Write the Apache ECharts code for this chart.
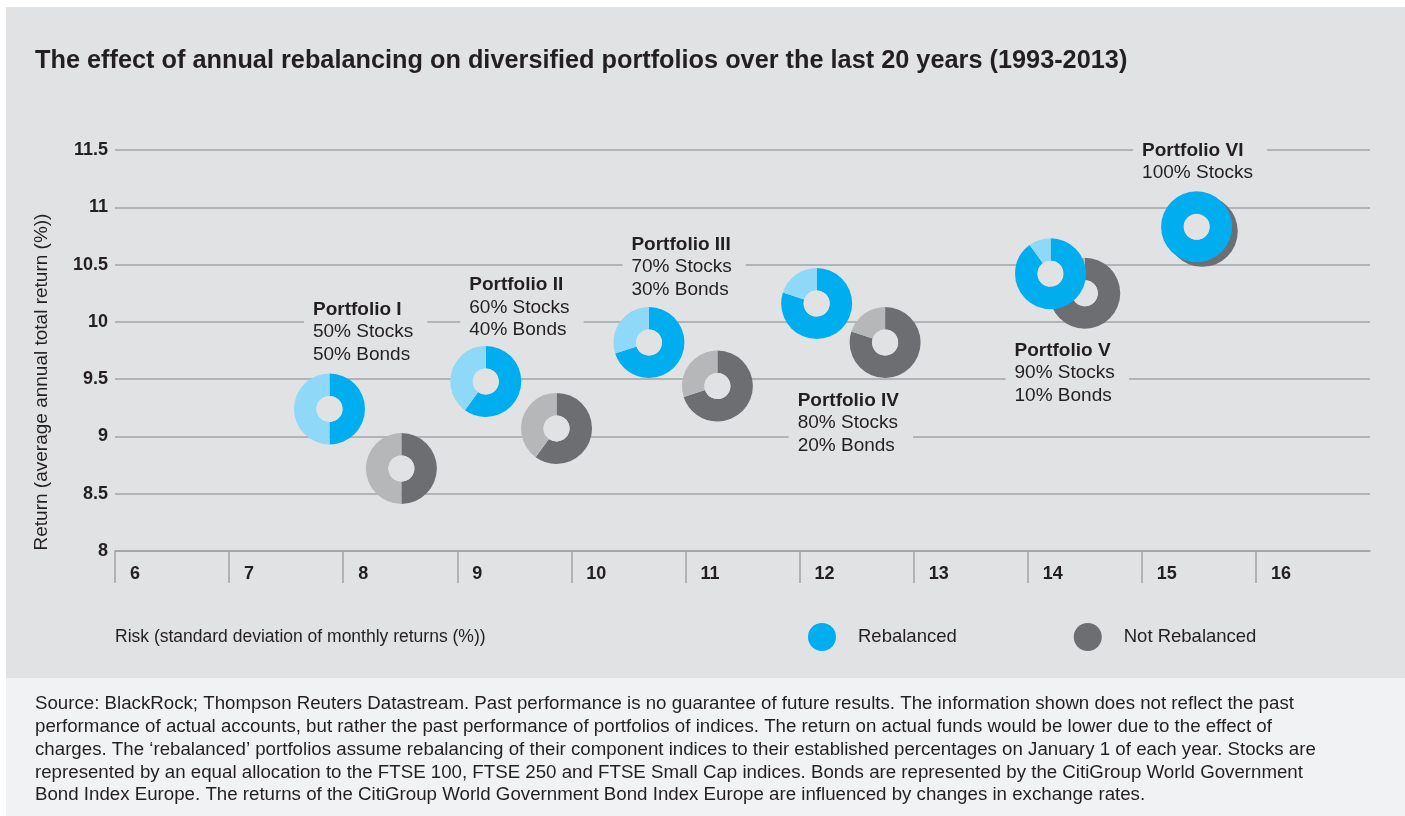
<!DOCTYPE html>
<html>
<head>
<meta charset="utf-8">
<script src="https://cdn.jsdelivr.net/npm/echarts@6/dist/echarts.min.js"></script>
<style>
  html, body { margin: 0; padding: 0; background: #fff; }
  #chart { width: 1405px; height: 816px; }
</style>
</head>
<body>
<div id="chart"></div>
<script>
// data
const portfolios = ["Portfolio I", "Portfolio II", "Portfolio III", "Portfolio IV", "Portfolio V", "Portfolio VI"];
const stockShare = [50, 60, 70, 80, 90, 100];
const bondShare = [50, 40, 30, 20, 10, 0];
const rebalRisk = [7.88, 9.25, 10.68, 12.15, 14.2, 15.48];
const rebalReturn = [9.24, 9.48, 9.82, 10.16, 10.42, 10.83];
const notRebalRisk = [8.51, 9.87, 11.28, 12.75, 14.5, 15.53];
const notRebalReturn = [8.72, 9.07, 9.44, 9.82, 10.25, 10.79];
const xTicks = [6, 7, 8, 9, 10, 11, 12, 13, 14, 15, 16];

const FONT = "'Liberation Sans', Arial, Helvetica, sans-serif";
const INK = "#231f20";
const PANEL = "#e1e2e4";
const LINE = "#a2a3a5";
const BLUE = ["#00aeef", "#8ed8f8"];
const GREY = ["#6d6e71", "#b6b7b9"];

// where each text block sits, in px from its rebalanced donut
const labelBox = [[-25.5, -112.5], [-25.5, -109.5], [-26.5, -111], [-28, 83.5], [-45, 63.5], [-63.5, -89.5]];

const footnote = [
  "Source: BlackRock; Thompson Reuters Datastream. Past performance is no guarantee of future results. The information shown does not reflect the past",
  "performance of actual accounts, but rather the past performance of portfolios of indices. The return on actual funds would be lower due to the effect of",
  "charges. The \u2018rebalanced\u2019 portfolios assume rebalancing of their component indices to their established percentages on January 1 of each year. Stocks are",
  "represented by an equal allocation to the FTSE 100, FTSE 250 and FTSE Small Cap indices. Bonds are represented by the CitiGroup World Government",
  "Bond Index Europe. The returns of the CitiGroup World Government Bond Index Europe are influenced by changes in exchange rates."
].join("\n");

function donut(colors) {
  return function (params, api) {
    const c = api.coord([api.value(0), api.value(1)]);
    const share = api.value(2) / 100;
    const start = -Math.PI / 2;
    const mid = start + share * Math.PI * 2;
    const children = [{
      type: "sector",
      shape: { cx: c[0], cy: c[1], r0: 13, r: 35.5, startAngle: start, endAngle: mid, clockwise: true },
      style: { fill: colors[0] }
    }];
    if (share < 1) {
      children.push({
        type: "sector",
        shape: { cx: c[0], cy: c[1], r0: 13, r: 35.5, startAngle: mid, endAngle: start + Math.PI * 2, clockwise: true },
        style: { fill: colors[1] }
      });
    }
    // the hole is filled with the panel colour
    children.push({ type: "circle", shape: { cx: c[0], cy: c[1], r: 13 }, style: { fill: PANEL } });
    return { type: "group", children: children };
  };
}

function portfolioLabel(params, api) {
  const i = params.dataIndex;
  const c = api.coord([api.value(0), api.value(1)]);
  let txt = "{b|" + portfolios[i] + "}\n{n|" + stockShare[i] + "% Stocks}";
  if (bondShare[i] > 0) txt += "\n{n|" + bondShare[i] + "% Bonds}";
  return {
    type: "text",
    x: c[0] + labelBox[i][0],
    y: c[1] + labelBox[i][1],
    style: {
      text: txt,
      fill: INK,
      fontFamily: FONT,
      backgroundColor: PANEL,
      padding: [2, 14, 2, 9],
      rich: {
        b: { fontSize: 19, fontWeight: "bold", lineHeight: 22.5, fontFamily: FONT, fill: INK },
        n: { fontSize: 19, lineHeight: 22.5, fontFamily: FONT, fill: INK }
      }
    }
  };
}

const chart = echarts.init(document.getElementById("chart"));
chart.setOption({
  backgroundColor: "#fff",
  animation: false,
  graphic: [
    { type: "rect", z: -10, shape: { x: 6, y: 7, width: 1399, height: 671 }, style: { fill: PANEL } },
    { type: "rect", z: -10, shape: { x: 6, y: 678, width: 1399, height: 138 }, style: { fill: "#f1f2f4" } },
    {
      type: "text", x: 42, y: 382, rotation: Math.PI / 2,
      style: { text: "Return (average annual total return (%))", font: "19px " + FONT, fill: INK, textAlign: "center", textVerticalAlign: "middle" }
    },
    {
      type: "text", x: 115, y: 637,
      style: { text: "Risk (standard deviation of monthly returns (%))", font: "17.5px " + FONT, fill: INK, textVerticalAlign: "middle" }
    },
    {
      type: "text", x: 35, y: 693,
      style: { text: footnote, font: "18.7px " + FONT, fill: INK, lineHeight: 22.7 }
    }
  ],
  title: {
    text: "The effect of annual rebalancing on diversified portfolios over the last 20 years (1993-2013)",
    left: 35,
    top: 49,
    padding: 0,
    textStyle: { fontSize: 25.3, fontWeight: "bold", color: INK, fontFamily: FONT }
  },
  legend: {
    data: ["Rebalanced", "Not Rebalanced"],
    left: 803,
    top: 618,
    icon: "circle",
    itemWidth: 28,
    itemHeight: 28,
    itemGap: 117,
    textStyle: { fontSize: 18.5, color: INK, fontFamily: FONT, padding: [0, 0, 0, 17] }
  },
  grid: { left: 115, right: 35, top: 150, bottom: 265 },
  xAxis: {
    type: "value",
    min: 6,
    max: 17,
    interval: 1,
    axisLine: { show: true, lineStyle: { color: LINE, width: 1.5 } },
    axisTick: { show: true, length: 32, customValues: xTicks, lineStyle: { color: LINE, width: 1.5 } },
    axisLabel: {
      customValues: xTicks,
      align: "left",
      padding: [0, 0, 0, 15],
      margin: 14,
      fontSize: 18,
      fontWeight: "bold",
      color: INK,
      fontFamily: FONT
    },
    splitLine: { show: false }
  },
  yAxis: {
    type: "value",
    min: 8,
    max: 11.5,
    interval: 0.5,
    axisLine: { show: false },
    axisTick: { show: false },
    axisLabel: { fontSize: 18, fontWeight: "bold", color: INK, fontFamily: FONT, margin: 7 },
    splitLine: { lineStyle: { color: LINE, width: 1.5 } }
  },
  series: [
    {
      name: "Not Rebalanced",
      type: "custom",
      renderItem: donut(GREY),
      itemStyle: { color: GREY[0] },
      encode: { x: 0, y: 1 },
      data: notRebalRisk.map((x, i) => [x, notRebalReturn[i], stockShare[i]])
    },
    {
      name: "Rebalanced",
      type: "custom",
      renderItem: donut(BLUE),
      itemStyle: { color: BLUE[0] },
      encode: { x: 0, y: 1 },
      data: rebalRisk.map((x, i) => [x, rebalReturn[i], stockShare[i]])
    },
    {
      name: "labels",
      type: "custom",
      renderItem: portfolioLabel,
      encode: { x: 0, y: 1 },
      data: rebalRisk.map((x, i) => [x, rebalReturn[i]])
    }
  ]
});
</script>
</body>
</html>
